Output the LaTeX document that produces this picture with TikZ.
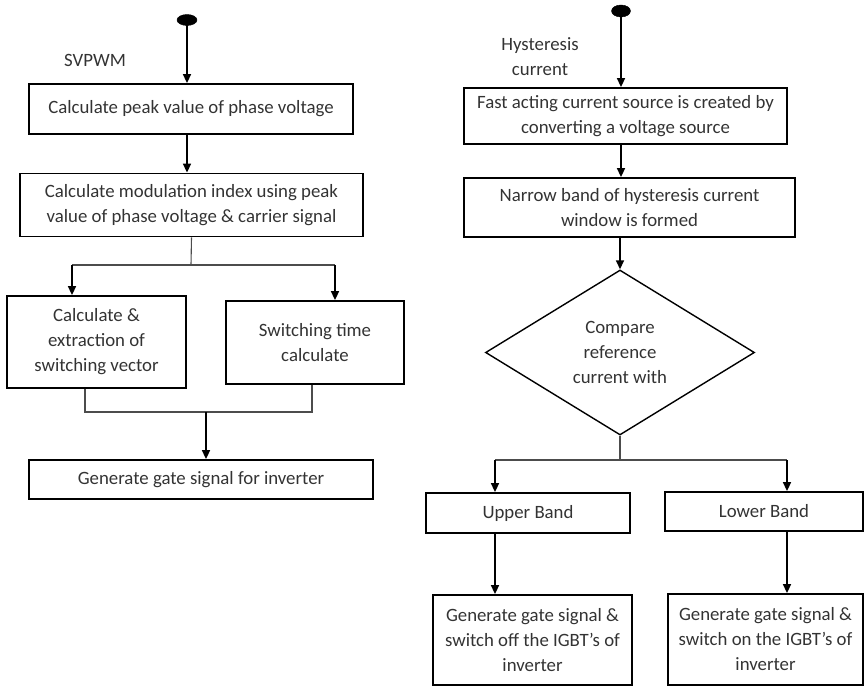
\documentclass[tikz,border=0pt]{standalone}
\usepackage{fontspec}
\setmainfont{Carlito}
\usetikzlibrary{arrows.meta,shapes.geometric}
\tikzset{
	flowbox/.style={draw=black, line width=1.8pt, align=center, text=black!80, inner sep=2pt},
	choice/.style={draw=black, line width=1.4pt, shape=diamond, align=center, text=black!80, inner sep=0pt},
	flowarrow/.style={line width=1.6pt, -{Triangle[width=8pt,length=9pt]}},
	thinline/.style={line width=1.1pt, black!70},
	startdot/.style={fill=black, draw=black}
}
\begin{document}
\begin{tikzpicture}[x=1pt,y=-1pt,font=\fontsize{18.8}{25}\selectfont]
	\useasboundingbox (0,0) rectangle (864,687);
	%SVPWM ag
	\fill [startdot] (187,20) ellipse (10pt and 5.5pt);
	\coordinate (dotA) at (187,20);
	\node [text=black!80] (svpwm) at (95,60) {SVPWM};
	\node [flowbox, minimum width=324pt, minimum height=50pt] (peak) at (191,109) {Calculate peak value of phase voltage};
	\node [flowbox, minimum width=343pt, minimum height=63pt] (modindex) at (191.5,205) {Calculate modulation index using peak\\value of phase voltage \& carrier signal};
	\node [flowbox, minimum width=179pt, minimum height=92pt] (extract) at (96.5,342) {Calculate \&\\extraction of\\switching vector};
	\node [flowbox, minimum width=178pt, minimum height=83pt] (swtime) at (315,342.5) {Switching time\\calculate};
	\node [flowbox, minimum width=344pt, minimum height=39pt] (gate) at (201,479.5) {Generate gate signal for inverter};
	
	\draw [flowarrow] (dotA) -- (dotA |- peak.north);
	\draw [flowarrow] (dotA |- peak.south) -- (dotA |- modindex.north);
	\coordinate (splitA) at (191,265);
	\draw [thinline] (modindex.south) -- (splitA);
	\draw [thinline] (72,265) -- (335,265);
	\draw [flowarrow] (72,265) -- (72,265 |- extract.north);
	\draw [flowarrow] (335,265) -- (335,265 |- swtime.north);
	\coordinate (joinA) at (206,412);
	\draw [thinline] (85,265 |- extract.south) -- (85,412) -- (312,412) -- (312,265 |- swtime.south);
	\draw [flowarrow] (joinA) -- (joinA |- gate.north);
	
	%hiszterézis ag
	\fill [startdot] (621,11) ellipse (9.5pt and 6pt);
	\coordinate (dotB) at (621,11);
	\node [text=black!80, align=center] (hyst) at (540,57) {Hysteresis\\current};
	\node [flowbox, minimum width=323pt, minimum height=56pt] (fast) at (625.5,116) {Fast acting current source is created by\\converting a voltage source};
	\node [flowbox, minimum width=331pt, minimum height=59pt] (narrow) at (629.5,207.5) {Narrow band of hysteresis current\\window is formed};
	\node [choice, minimum width=269pt, minimum height=165pt] (compare) at (620,352.5) {Compare\\reference\\current with};
	\node [flowbox, minimum width=204pt, minimum height=40pt] (upper) at (528,513) {Upper Band};
	\node [flowbox, minimum width=198pt, minimum height=39pt] (lower) at (764,511.5) {Lower Band};
	\node [flowbox, minimum width=199pt, minimum height=90pt] (offgate) at (532.5,640) {Generate gate signal \&\\switch off the IGBT's of\\inverter};
	\node [flowbox, minimum width=195pt, minimum height=91pt] (ongate) at (765.5,639.5) {Generate gate signal \&\\switch on the IGBT's of\\inverter};
	
	\draw [flowarrow] (dotB) -- (dotB |- fast.north);
	\draw [flowarrow] (dotB |- fast.south) -- (dotB |- narrow.north);
	\draw [flowarrow] (compare.north |- narrow.south) -- (compare.north);
	\coordinate (splitB) at (620,460);
	\draw [thinline] (compare.south) -- (splitB);
	\draw [thinline] (495,460) -- (787,460);
	\draw [flowarrow] (495,460) -- (495,460 |- upper.north);
	\draw [flowarrow] (787,460) -- (787,460 |- lower.north);
	\draw [flowarrow] (495,460 |- upper.south) -- (495,460 |- offgate.north);
	\draw [flowarrow] (787,460 |- lower.south) -- (787,460 |- ongate.north);
\end{tikzpicture}
\end{document}
